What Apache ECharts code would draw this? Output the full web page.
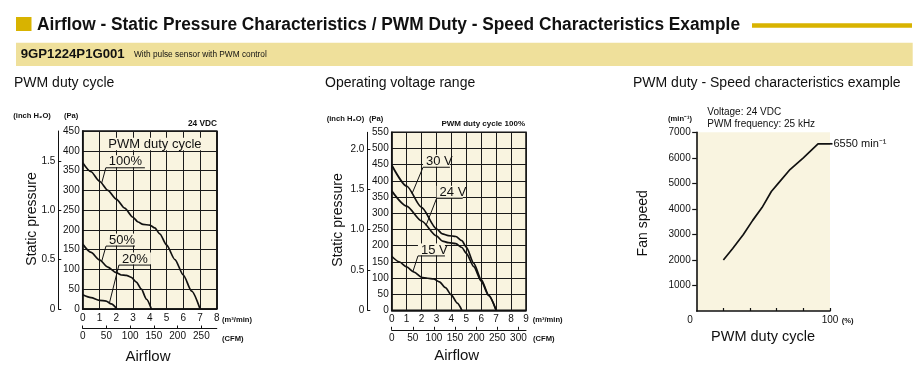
<!DOCTYPE html>
<html><head><meta charset="utf-8">
<script src="https://cdn.jsdelivr.net/npm/echarts@6/dist/echarts.min.js"></script>
<style>html,body{margin:0;padding:0;background:#fff}#c{width:919px;height:372px}</style>
</head><body><div id="c"></div>
<script>
// ---------------- data ----------------
// Panel 1: airflow (m3/min) vs static pressure (Pa), 24 VDC, by PWM duty
const duty100 = [[0,370],[0.5,347],[1,323],[1.5,300],[2,278],[2.5,255],[3,232],[3.3,220],[3.6,214],[4,212],[4.3,205],[4.6,190],[5,162],[5.5,125],[6,86],[6.5,45],[7,0]];
const duty50  = [[0,164],[0.5,143],[1,124],[1.5,106],[2,92],[2.3,86],[2.6,85],[2.9,80],[3.2,68],[3.5,50],[3.8,25],[4.1,0]];
const duty20  = [[0,36],[0.5,29],[1,22],[1.4,20],[1.7,13],[2.05,0]];
// Panel 2: operating voltage range, PWM duty 100%
const volt30 = [[0,449],[1,384],[2,318],[3,252],[3.4,236],[3.8,231],[4.3,228],[4.7,215],[5,195],[5.5,145],[6,95],[6.5,47],[7,0]];
const volt24 = [[0,369],[1,322],[2,276],[3,230],[3.4,214],[3.8,209],[4.3,206],[4.7,194],[5,176],[5.5,135],[6,90],[6.5,45],[7,0]];
const volt15 = [[0,167],[0.5,150],[1,134],[1.5,118],[2,102],[2.4,99],[2.8,97],[3.2,88],[3.6,70],[4,47],[4.4,22],[4.7,0]];
// Panel 3: PWM duty (%) vs fan speed (min-1)
const speed = [[20,2000],[27,2450],[35,3000],[42,3550],[49,4050],[56,4680],[61,4990],[70,5540],[80,6000],[91,6550],[100,6550]];
// tick labels / scales
const paTicks1 = 450, paTicks2 = 550;
const inchTicks1 = [0,0.5,1.0,1.5];
const inchTicks2 = [0,0.5,1.0,1.5,2.0];
const cfmTicks1 = [0,50,100,150,200,250];
const cfmTicks2 = [0,50,100,150,200,250,300];
const speedTicks = [1000,2000,3000,4000,5000,6000,7000];
const PA_PER_INCH = 249.09, M3_PER_CFM = 0.0283168;
// annotation labels (anchored in data space)
const annotations = [
  {x:0, y:0, text:'100%', ul:[1.38,357,3.71], tip:[1.13,318]},
  {x:0, y:0, text:'50%',  ul:[1.39,159,3.12], tip:[1.13,120]},
  {x:0, y:0, text:'20%',  ul:[2.16,111,4.07], tip:[1.6,16]},
  {x:2, y:2, text:'30 V', ul:[2.10,442,3.90], tip:[1.36,360]},
  {x:2, y:2, text:'24 V', ul:[3.01,346,4.76], tip:[2.3,262]},
  {x:2, y:2, text:'15 V', ul:[1.76,168,3.57], tip:[1.43,121]}
];

// ---------------- chart ----------------
const F = '"Liberation Sans", Arial, sans-serif';
const BG = '#f9f4e0', INK = '#111';
const chart = echarts.init(document.getElementById('c'), null, {renderer:'canvas'});

function gridBox(l,t,w,h,border){return {left:l,top:t,width:w,height:h,show:true,backgroundColor:BG,borderColor:INK,borderWidth:border,containLabel:false};}
const lab = (m)=>({fontFamily:F,fontSize:10,color:INK,margin:m});
const split = {show:true,lineStyle:{color:'#1a1a1a',width:1}};
const line = (w)=>({show:true,onZero:false,lineStyle:{color:INK,width:w}});

function airX(g,max){return {gridIndex:g,type:'value',min:0,max:max,interval:1,axisLine:line(1.5),axisTick:{show:false},axisLabel:lab(4),splitLine:split};}
function cfmX(g,ticks,maxM3){return {gridIndex:g,type:'value',position:'bottom',offset:19.5,min:0,max:maxM3/M3_PER_CFM,
  axisLine:line(1),axisTick:{show:true,inside:true,length:3,customValues:ticks,lineStyle:{color:INK}},
  axisLabel:Object.assign(lab(3),{customValues:ticks}),splitLine:{show:false}};}
function paY(g,max){return {gridIndex:g,type:'value',min:0,max:max,interval:50,axisLine:line(1.5),axisTick:{show:false},axisLabel:lab(3),splitLine:split};}
function inchY(g,ticks,maxPa,off){return {gridIndex:g,type:'value',position:'left',offset:off,min:0,max:maxPa/PA_PER_INCH,
  axisLine:line(1),axisTick:{show:true,inside:true,length:3,customValues:ticks,lineStyle:{color:INK}},
  axisLabel:Object.assign(lab(3),{customValues:ticks,formatter:v=>v===0?'0':v.toFixed(1)}),splitLine:{show:false}};}

function curve(name,data,xi,yi){return {name,type:'line',data,xAxisIndex:xi,yAxisIndex:yi,smooth:0.25,smoothMonotone:'x',showSymbol:false,symbol:'none',lineStyle:{color:INK,width:1.7},z:3,silent:true};}

const option = {
  animation:false,
  grid:[gridBox(82.7,131,134.1,178,1.5), gridBox(391.7,132.3,134.3,178,1.5),
        {left:696.7,top:132.3,width:133.3,height:178.7,show:true,backgroundColor:BG,borderWidth:0}],
  xAxis:[airX(0,8), cfmX(0,cfmTicks1,8), airX(1,9), cfmX(1,cfmTicks2,9),
    {gridIndex:2,type:'value',min:0,max:100,axisLine:line(1.6),
     axisTick:{show:true,inside:true,length:3,customValues:[20,40,60,80,100],lineStyle:{color:INK,width:1.2}},
     axisLabel:Object.assign(lab(4),{customValues:[100]}),splitLine:{show:false}}],
  yAxis:[paY(0,paTicks1), inchY(0,inchTicks1,paTicks1,24.4), paY(1,paTicks2), inchY(1,inchTicks2,paTicks2,24.4),
    {gridIndex:2,type:'value',min:0,max:7000,axisLine:line(1.6),
     axisTick:{show:true,inside:false,length:4.5,customValues:speedTicks,lineStyle:{color:INK,width:1.2}},
     axisLabel:Object.assign(lab(6),{customValues:speedTicks,formatter:v=>String(v)}),splitLine:{show:false}}],
  series:[curve('100%',duty100,0,0),curve('50%',duty50,0,0),curve('20%',duty20,0,0),
          curve('30 V',volt30,2,2),curve('24 V',volt24,2,2),curve('15 V',volt15,2,2),
          Object.assign(curve('speed',speed,4,4),{smooth:false})]
};
chart.setOption(option);

// ---------------- static text / decorations ----------------
function txt(x,y,s,size,opt){opt=opt||{};return {type:'text',x:x,y:y,z:10,rotation:opt.rot||0,
  style:{text:s,fontFamily:F,fontSize:size,fontWeight:opt.bold?'bold':'normal',fill:opt.color||INK,
  textAlign:opt.align||'left',textVerticalAlign:opt.va||'middle'}};}
function measure(s,font){const c=document.createElement('canvas').getContext('2d');c.font=font;return c.measureText(s).width;}

const g = [];
// header
g.push({type:'rect',z:10,shape:{x:16,y:17,width:15.5,height:14},style:{fill:'#d8b300'}});
const title='Airflow - Static Pressure Characteristics / PWM Duty - Speed Characteristics Example';
const tw = measure(title,'bold 17.5px "Liberation Sans"');
g.push(Object.assign(txt(37,24.8,title,17.5,{bold:true}),{scaleX:703/tw}));
g.push({type:'rect',z:10,shape:{x:752,y:23.3,width:160,height:4.4},style:{fill:'#d8b300'}});
g.push({type:'rect',z:1,shape:{x:16,y:42.7,width:896.7,height:23.3},style:{fill:'#efe09b'}});
const pn='9GP1224P1G001', pw=measure(pn,'bold 13px "Liberation Sans"');
g.push(Object.assign(txt(20.7,54.5,pn,13,{bold:true}),{scaleX:104/pw}));
g.push(txt(134,54.8,'With pulse sensor with PWM control',8.3));
// panel titles
g.push(txt(14,83,'PWM duty cycle',14));
g.push(txt(325,83,'Operating voltage range',14));
g.push(txt(633,83,'PWM duty - Speed characteristics example',14));
// panel 1 labels
g.push(txt(13.3,116,'(inch H₂O)',7.6,{bold:true}));
g.push(txt(64,116,'(Pa)',7.6,{bold:true}));
g.push(txt(217,124,'24 VDC',8.3,{bold:true,align:'right'}));
g.push(txt(222,320,'(m³/min)',7.6,{bold:true}));
g.push(txt(222,338.5,'(CFM)',7.6,{bold:true}));
g.push(txt(32,219,'Static pressure',14,{rot:Math.PI/2,align:'center'}));
g.push(txt(148,356.5,'Airflow',15,{align:'center'}));
// panel 2 labels
g.push(txt(326.7,119,'(inch H₂O)',7.6,{bold:true}));
g.push(txt(369,119,'(Pa)',7.6,{bold:true}));
g.push(txt(525,123.3,'PWM duty cycle 100%',8,{bold:true,align:'right'}));
g.push(txt(532.7,320,'(m³/min)',7.6,{bold:true}));
g.push(txt(533,338.5,'(CFM)',7.6,{bold:true}));
g.push(txt(338.3,220,'Static pressure',14,{rot:Math.PI/2,align:'center'}));
g.push(txt(456.7,356,'Airflow',15,{align:'center'}));
// panel 3 labels
g.push(txt(668,119.3,'(min⁻¹)',7.6,{bold:true}));
g.push(txt(707.3,112,'Voltage: 24 VDC',10));
g.push(txt(707.3,124.7,'PWM frequency: 25 kHz',10));
g.push(txt(643.3,223.3,'Fan speed',14,{rot:Math.PI/2,align:'center'}));
g.push(txt(763,336.7,'PWM duty cycle',14.5,{align:'center'}));
g.push(txt(690,320.7,'0',10,{align:'center'}));
g.push(txt(841.7,321,'(%)',7.6,{bold:true}));
const endPt = chart.convertToPixel({xAxisIndex:4,yAxisIndex:4}, speed[speed.length-1]);
g.push({type:'line',z:10,shape:{x1:endPt[0],y1:endPt[1],x2:endPt[0]+2.5,y2:endPt[1]},style:{stroke:INK,lineWidth:1.7}});
g.push(txt(endPt[0]+3.5,endPt[1]+0.5,'6550 min⁻¹',11));

// "PWM duty cycle" heading inside panel 1 (anchored at 400 Pa grid line)
{
  const p = chart.convertToPixel({xAxisIndex:0,yAxisIndex:0},[1.53,400]);
  const s='PWM duty cycle', w=measure(s,'13px "Liberation Sans"');
  g.push({type:'rect',z:8,shape:{x:p[0]-2,y:p[1]-13,width:w+4,height:12.4},style:{fill:BG}});
  g.push(txt(p[0],p[1]-6.3,s,13));
}
// curve annotations
annotations.forEach(a=>{
  const f={xAxisIndex:a.x,yAxisIndex:a.y};
  const p1=chart.convertToPixel(f,[a.ul[0],a.ul[1]]), p2=chart.convertToPixel(f,[a.ul[2],a.ul[1]]);
  const t=chart.convertToPixel(f,a.tip);
  g.push({type:'rect',z:8,shape:{x:p1[0],y:p1[1]-12.5,width:p2[0]-p1[0],height:12},style:{fill:BG}});
  g.push(txt(p1[0]+3,p1[1]-6,a.text,13));
  g.push({type:'line',z:9,shape:{x1:p1[0],y1:p1[1],x2:p2[0],y2:p2[1]},style:{stroke:INK,lineWidth:1}});
  g.push({type:'line',z:9,shape:{x1:p1[0],y1:p1[1],x2:t[0],y2:t[1]},style:{stroke:INK,lineWidth:1}});
});
chart.setOption({graphic:{elements:g}});
</script></body></html>
